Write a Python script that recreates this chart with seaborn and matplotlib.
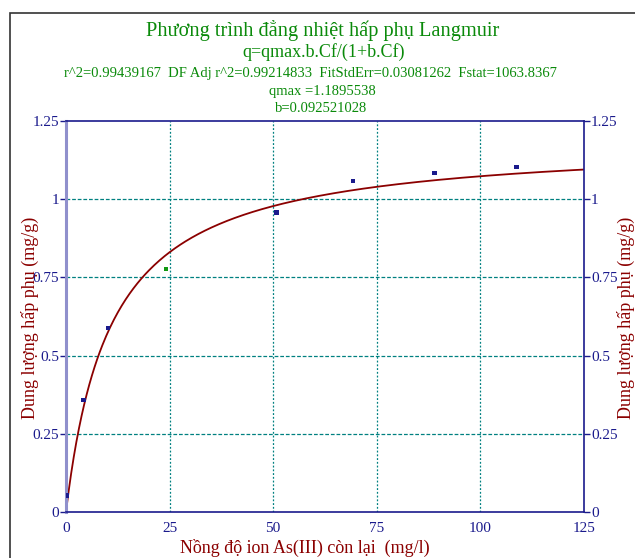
import numpy as np
import pandas as pd
import matplotlib
matplotlib.use("Agg")
import matplotlib.pyplot as plt
import seaborn as sns
from matplotlib.patches import Rectangle

# ===== số liệu =====
cf = [0.25, 4.2, 10.1, 24.1, 50.8, 69.2, 88.9, 108.7]
q = [0.053, 0.358, 0.589, 0.776, 0.958, 1.058, 1.084, 1.103]
pt_color = ["navy", "navy", "navy", "green", "navy", "navy", "navy", "navy"]

# tham số Langmuir in trên hình
qmax = 1.1895538
b = 0.092521028

x_ticks = [0, 25, 50, 75, 100, 125]
y_ticks = [0, 0.25, 0.5, 0.75, 1.0, 1.25]
y_ticklabels = ["0", "0.25", "0.5", "0.75", "1", "1.25"]

title_lines = [
    "Phương trình đẳng nhiệt hấp phụ Langmuir",
    "q=qmax.b.Cf/(1+b.Cf)",
    "r^2=0.99439167  DF Adj r^2=0.99214833  FitStdErr=0.03081262  Fstat=1063.8367",
    "qmax =1.1895538",
    "b=0.092521028",
]

sns.set_style("white")
plt.rcParams["font.family"] = ["Liberation Serif", "DejaVu Serif"]

NAVY = "#1a1a8c"
DARKRED = "#8b0000"
GREEN = "#0a8a0a"
TEAL = "#008080"

fig = plt.figure(figsize=(6.35, 5.58), dpi=100)
ax = fig.add_axes([0.1039, 0.0824, 0.8157, 0.7007])

# đường fit
xf = np.linspace(0, 125, 400)
fit = pd.DataFrame({"Cf": xf, "q": qmax * b * xf / (1 + b * xf)})
sns.lineplot(data=fit, x="Cf", y="q", color=DARKRED, linewidth=1.3, ax=ax)

# điểm thực nghiệm
df = pd.DataFrame({"Cf": cf, "q": q, "c": pt_color})
sns.scatterplot(data=df, x="Cf", y="q", hue="c", palette={"navy": NAVY, "green": "#119911"},
                marker="s", s=10, linewidth=0, legend=False, ax=ax, zorder=5)

ax.set_xlim(0, 125)
ax.set_ylim(0, 1.25)
ax.set_xticks(x_ticks)
ax.set_yticks(y_ticks)
ax.set_yticklabels(y_ticklabels)

for v in x_ticks[1:-1]:
    ax.axvline(v, color=TEAL, linestyle=(0, (1.5, 1.5)), linewidth=0.9, zorder=1)
for v in y_ticks[1:-1]:
    ax.axhline(v, color=TEAL, linestyle=(0, (3, 1.5)), linewidth=0.9, zorder=1)

for s in ["top", "right", "bottom"]:
    ax.spines[s].set_color(NAVY)
    ax.spines[s].set_linewidth(1.2)
ax.spines["left"].set_color("#9090cc")
ax.spines["left"].set_linewidth(2.2)

ax.tick_params(axis="both", colors=NAVY, labelsize=11, length=4, width=1, direction="out", pad=1)
ax.tick_params(axis="x", pad=3)
ax.set_xlabel("Nồng độ ion As(III) còn lại  (mg/l)", color=DARKRED, fontsize=13)
ax.xaxis.set_label_coords(0.461, -0.068)
ax.set_ylabel("Dung lượng hấp phụ (mg/g)", color=DARKRED, fontsize=13)
ax.yaxis.set_label_coords(-0.052, 0.496)

ax2 = ax.twinx()
ax2.set_ylim(0, 1.25)
ax2.set_yticks(y_ticks)
ax2.set_yticklabels(y_ticklabels)
ax2.tick_params(axis="y", colors=NAVY, labelsize=11, length=4, width=1, direction="out", pad=1)
for s in ax2.spines.values():
    s.set_visible(False)
ax2.set_ylabel("Dung lượng hấp phụ (mg/g)", color=DARKRED, fontsize=13)
ax2.yaxis.set_label_coords(1.064, 0.496)

# tiêu đề
sizes = [14.7, 13, 10.5, 10.5, 10.5]
ys = [31, 52, 73, 91, 108]
xs = [323, 324, 310, 322, 321]
for txt, fs, xp, yp in zip(title_lines, sizes, xs, ys):
    fig.text(xp / 635, 1 - yp / 558, txt, color=GREEN, fontsize=fs, ha="center", va="center")

# khung ngoài
fig.patches.append(Rectangle((9.5 / 635, -0.1), 1.2, 1 - 12.5 / 558 + 0.1, transform=fig.transFigure,
                             fill=False, edgecolor="#333333", linewidth=1.2))

fig.savefig("out.png", dpi=100)
